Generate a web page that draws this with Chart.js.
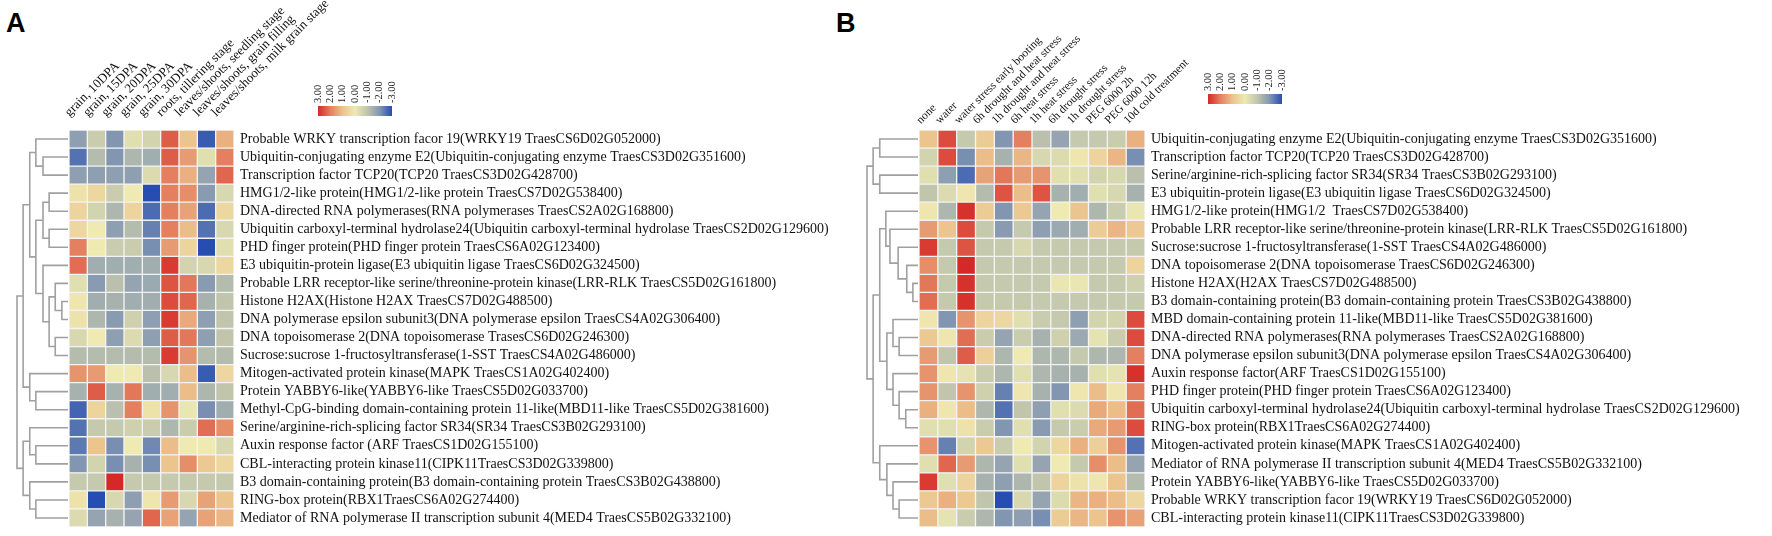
<!DOCTYPE html>
<html lang="en">
<head>
<meta charset="UTF-8">
<title>Expression heatmaps</title>
<style>
  body { margin: 0; background: #fff; width: 1772px; height: 536px; position: relative; overflow: hidden; }
  .panel { position: absolute; font-family: "Liberation Sans", Arial, sans-serif; font-weight: bold; font-size: 27px; color: #000; }
  canvas { position: absolute; }
</style>
<script src="https://cdn.jsdelivr.net/npm/chart.js"></script>
</head>
<body>
<div class="panel" style="left:6px;top:8px">A</div>
<div class="panel" style="left:836px;top:8px">B</div>
<canvas id="heatA"></canvas>
<canvas id="heatB"></canvas>
<canvas id="barA"></canvas>
<canvas id="barB"></canvas>
<script>
// ---- panel A: tissues ----
const colsA = ['grain, 10DPA', 'grain, 15DPA', 'grain, 20DPA', 'grain, 25DPA', 'grain, 30DPA',
  'roots, tillering stage', 'leaves/shoots, seedling stage', 'leaves/shoots, grain filling', 'leaves/shoots, milk grain stage'];
const rowsA = [
  'Probable WRKY transcription facor 19(WRKY19 TraesCS6D02G052000)',
  'Ubiquitin-conjugating enzyme E2(Ubiquitin-conjugating enzyme TraesCS3D02G351600)',
  'Transcription factor TCP20(TCP20 TraesCS3D02G428700)',
  'HMG1/2-like protein(HMG1/2-like protein TraesCS7D02G538400)',
  'DNA-directed RNA polymerases(RNA polymerases TraesCS2A02G168800)',
  'Ubiquitin carboxyl-terminal hydrolase24(Ubiquitin carboxyl-terminal hydrolase TraesCS2D02G129600)',
  'PHD finger protein(PHD finger protein TraesCS6A02G123400)',
  'E3 ubiquitin-protein ligase(E3 ubiquitin ligase TraesCS6D02G324500)',
  'Probable LRR receptor-like serine/threonine-protein kinase(LRR-RLK TraesCS5D02G161800)',
  'Histone H2AX(Histone H2AX TraesCS7D02G488500)',
  'DNA polymerase epsilon subunit3(DNA polymerase epsilon TraesCS4A02G306400)',
  'DNA topoisomerase 2(DNA topoisomerase TrasesCS6D02G246300)',
  'Sucrose:sucrose 1-fructosyltransferase(1-SST TraesCS4A02G486000)',
  'Mitogen-activated protein kinase(MAPK TraesCS1A02G402400)',
  'Protein YABBY6-like(YABBY6-like TraesCS5D02G033700)',
  'Methyl-CpG-binding domain-containing protein 11-like(MBD11-like TraesCS5D02G381600)',
  'Serine/arginine-rich-splicing factor SR34(SR34 TraesCS3B02G293100)',
  'Auxin response factor (ARF TraesCS1D02G155100)',
  'CBL-interacting protein kinase11(CIPK11TraesCS3D02G339800)',
  'B3 domain-containing protein(B3 domain-containing protein TraesCS3B02G438800)',
  'RING-box protein(RBX1TraesCS6A02G274400)',
  'Mediator of RNA polymerase II transcription subunit 4(MED4 TraesCS5B02G332100)'
];
const valuesA = [
  [-1.8, -0.8, -2.0, -0.3, -0.6,  2.4,  1.0, -2.8,  1.3],
  [-2.5, -1.2, -2.0, -1.3, -1.5,  2.4,  1.6, -0.3,  2.0],
  [-1.8, -1.8, -1.8, -1.8, -0.4,  2.0,  1.3, -1.7,  2.3],
  [ 0.2,  0.5, -0.8,  0.0, -3.0,  2.0,  1.8, -1.9, -0.5],
  [ 0.6, -0.6, -1.3,  0.6, -2.6,  2.0,  1.5, -2.6,  0.5],
  [ 0.5,  0.0, -1.8, -1.2, -2.3,  2.0,  1.1, -2.5, -0.5],
  [ 2.0,  0.0, -0.8, -0.8, -2.1,  1.6,  0.6, -3.0, -0.3],
  [ 2.2, -1.5, -1.5, -1.5, -1.5,  2.8, -0.6, -0.5,  0.5],
  [-0.3, -1.9, -1.1, -1.7, -1.6,  2.5,  2.1, -1.9, -1.2],
  [ 0.1, -1.5, -1.4, -1.5, -1.5,  2.6,  2.3, -1.4, -1.0],
  [ 0.2, -1.3, -1.9, -0.7, -1.8,  2.8,  1.4, -1.8, -1.0],
  [-0.5,  0.0, -1.8, -0.4, -1.8,  2.4,  2.1, -1.8, -1.0],
  [-1.2, -1.2, -1.2, -1.2, -1.2,  2.8,  1.7, -1.2, -1.2],
  [ 1.7,  1.6,  0.0,  0.0, -1.1, -0.5,  1.1, -2.8,  0.5],
  [-1.4,  2.4, -1.4,  2.1, -1.5, -1.5,  1.1, -1.3, -1.0],
  [-2.7,  0.6, -1.1,  2.0,  0.2,  1.7, -0.1, -2.1, -1.5],
  [-2.5, -0.9, -0.9, -0.7, -0.8, -1.3, -0.8,  2.2,  1.8],
  [-2.4,  1.0, -2.1,  0.0, -2.2,  1.1,  0.0,  0.0, -0.5],
  [-2.0, -0.6, -2.1, -1.4, -2.1,  1.0,  1.8,  0.9,  0.5],
  [-0.9, -0.9,  3.0, -0.9, -0.9, -0.9, -0.9, -0.9, -0.9],
  [ 0.2, -3.0, -0.5, -1.8,  0.1,  1.6, -0.5,  1.5,  1.0],
  [-0.4, -1.7, -1.4, -1.7,  2.3,  1.5, -1.7,  1.5,  1.2]
];
// row dendrogram: [left, right, height], leaves are row indexes
const treeA = [
  [[[0, [1, 2, 0.49], 0.63],
    [[[3, 4, 0.37], [5, 6, 0.37], 0.49],
     [7, [[8, [9, 10, 0.12], 0.25], [11, 12, 0.25], 0.37], 0.49], 0.63], 0.75],
   [13, [14, 15, 0.63], 0.75], 0.88],
  [[16, [17, 18, 0.63], 0.75], [19, [20, 21, 0.63], 0.75], 0.88],
  1.0
];

// ---- panel B: stresses ----
const colsB = ['none', 'water', 'water stress early booting', '6h drought and heat stress', '1h drought and heat stress',
  '6h heat stress', '1h heat stress', '6h drought stress', '1h drought stress', 'PEG 6000 2h', 'PEG 6000 12h', '10d cold treatment'];
const rowsB = [
  'Ubiquitin-conjugating enzyme E2(Ubiquitin-conjugating enzyme TraesCS3D02G351600)',
  'Transcription factor TCP20(TCP20 TraesCS3D02G428700)',
  'Serine/arginine-rich-splicing factor SR34(SR34 TraesCS3B02G293100)',
  'E3 ubiquitin-protein ligase(E3 ubiquitin ligase TraesCS6D02G324500)',
  'HMG1/2-like protein(HMG1/2  TraesCS7D02G538400)',
  'Probable LRR receptor-like serine/threonine-protein kinase(LRR-RLK TraesCS5D02G161800)',
  'Sucrose:sucrose 1-fructosyltransferase(1-SST TraesCS4A02G486000)',
  'DNA topoisomerase 2(DNA topoisomerase TraesCS6D02G246300)',
  'Histone H2AX(H2AX TraesCS7D02G488500)',
  'B3 domain-containing protein(B3 domain-containing protein TraesCS3B02G438800)',
  'MBD domain-containing protein 11-like(MBD11-like TraesCS5D02G381600)',
  'DNA-directed RNA polymerases(RNA polymerases TraesCS2A02G168800)',
  'DNA polymerase epsilon subunit3(DNA polymerase epsilon TraesCS4A02G306400)',
  'Auxin response factor(ARF TraesCS1D02G155100)',
  'PHD finger protein(PHD finger protein TraesCS6A02G123400)',
  'Ubiquitin carboxyl-terminal hydrolase24(Ubiquitin carboxyl-terminal hydrolase TraesCS2D02G129600)',
  'RING-box protein(RBX1TraesCS6A02G274400)',
  'Mitogen-activated protein kinase(MAPK TraesCS1A02G402400)',
  'Mediator of RNA polymerase II transcription subunit 4(MED4 TraesCS5B02G332100)',
  'Protein YABBY6-like(YABBY6-like TraesCS5D02G033700)',
  'Probable WRKY transcription facor 19(WRKY19 TraesCS6D02G052000)',
  'CBL-interacting protein kinase11(CIPK11TraesCS3D02G339800)'
];
const valuesB = [
  [ 1.0,  2.6, -0.9,  0.8, -2.0,  2.0, -1.1, -1.7, -0.9, -0.9, -0.8,  1.3],
  [-0.6,  2.6, -2.1,  1.1, -1.4,  1.2, -0.5, -0.4,  0.1,  0.6,  1.2, -2.1],
  [-0.3, -1.8, -2.6,  1.5,  2.1,  1.6,  1.7, -0.3, -0.3, -0.6, -0.5, -1.1],
  [-1.0, -0.4,  0.1, -1.2,  2.5,  1.1,  2.5, -1.4, -1.5, -0.3, -0.5, -1.4],
  [ 0.1, -1.3,  2.9,  0.8, -2.0,  0.9, -1.7,  0.0,  1.0, -1.3, -0.8, -0.1],
  [ 1.6,  1.0,  2.6, -0.9, -1.9, -0.9, -1.8, -1.6, -1.5,  0.8,  1.2,  0.9],
  [ 2.8, -0.9,  2.5, -0.9, -0.9, -0.5, -0.9, -0.9, -0.9, -0.9, -0.9, -0.9],
  [ 1.8, -0.9,  3.0, -0.9, -0.9, -0.9, -0.9, -0.9, -0.9, -0.9, -0.9,  0.6],
  [ 2.1, -0.9,  2.9, -0.9, -0.9, -0.9, -0.9, -0.1, -0.1, -0.9, -0.9, -0.7],
  [ 2.2, -0.9,  2.9, -0.9, -0.9, -0.9, -0.9, -0.9, -0.9, -0.9, -0.9, -0.9],
  [ 0.1, -2.0,  1.7,  0.6,  0.5, -0.3, -0.8, -0.9, -1.8, -0.6, -0.6,  2.6],
  [ 0.9,  0.1,  2.2, -0.8, -1.7, -0.8, -1.4, -0.7, -1.6, -0.2, -0.8,  2.6],
  [ 1.6, -1.0,  2.4,  0.7, -1.3,  0.0, -1.3, -1.3, -0.9, -1.3, -1.3,  2.0],
  [ 1.7,  0.1, -0.2, -0.8, -1.3, -0.3, -1.3, -1.4, -1.4, -0.3, -0.2,  2.9],
  [ 1.7, -1.0,  1.7, -0.7, -2.3,  0.1, -1.4, -2.0,  0.1,  1.1,  0.1,  2.0],
  [ 1.3,  0.1,  1.1, -1.3, -2.5, -1.0, -1.8, -0.3, -0.4,  1.4,  1.1,  2.2],
  [-0.3, -0.3,  0.2, -0.8, -2.0, -0.3, -1.9, -0.9, -0.8,  1.4,  1.6,  2.6],
  [ 1.7, -2.3, -0.6,  0.9, -0.8,  0.0, -0.6,  0.5,  1.3,  0.7,  1.7, -2.5],
  [-0.3,  2.3,  1.6, -1.3, -1.7, -0.3, -1.7,  0.0, -0.9,  1.8,  1.1, -1.7],
  [ 2.8, -0.3,  0.6, -1.4, -1.8, -1.3, -1.0,  0.6,  0.2,  0.1,  1.0, -1.2],
  [ 0.9,  1.3,  0.9, -1.0, -3.0, -0.5, -1.7, -0.4,  1.2,  1.3,  1.1,  0.5],
  [ 1.1, -0.2, -0.8, -1.3, -2.0, -1.8, -2.1,  0.8,  1.2,  1.0,  1.7,  1.5]
];
const treeB = [
  [[0, 1, 0.75], [2, 3, 0.75], 0.88],
  [[[4, [5, [6, [7, [8, 9, 0.10], 0.22], 0.39], 0.55], 0.63],
    [[10, [11, 12, 0.37], 0.49], [13, [14, [15, 16, 0.24], 0.37], 0.49], 0.61], 0.75],
   [17, [18, [19, [20, 21, 0.37], 0.49], 0.61], 0.75], 0.88],
  1.0
];

// colour key
const keyValues = [3, 2, 1, 0, -1, -2, -3];
const keyColors = [[214, 40, 38], [228, 128, 95], [236, 196, 142], [238, 234, 178], [192, 197, 172], [130, 150, 178], [38, 78, 178]];

function heatColor(v) {
  v = Math.max(-3, Math.min(3, v));
  const i = Math.min(keyValues.length - 2, Math.floor(3 - v));
  const t = (keyValues[i] - v) / (keyValues[i] - keyValues[i + 1]);
  const a = keyColors[i], b = keyColors[i + 1];
  const c = a.map((x, k) => Math.round(x + (b[k] - x) * t));
  return `rgb(${c[0]},${c[1]},${c[2]})`;
}

const dendroPlugin = {
  id: 'dendro',
  afterDraw(chart, args, opts) {
    if (!opts.tree) return;
    const ctx = chart.ctx, ys = chart.scales.y;
    const x0 = chart.chartArea.left - 1;
    ctx.save();
    ctx.strokeStyle = '#a0a0a0';
    ctx.lineWidth = 1.6;
    function walk(node) {
      if (typeof node === 'number') return { x: x0, y: ys.getPixelForValue(node) };
      const a = walk(node[0]), b = walk(node[1]);
      const x = x0 - node[2] * opts.width;
      ctx.beginPath();
      ctx.moveTo(a.x, a.y); ctx.lineTo(x, a.y); ctx.lineTo(x, b.y); ctx.lineTo(b.x, b.y);
      ctx.stroke();
      return { x: x, y: (a.y + b.y) / 2 };
    }
    walk(opts.tree);
    ctx.restore();
  }
};

// vertical value labels above the colour key, placed with the key's x scale
const keyLabelPlugin = {
  id: 'keyLabels',
  afterDraw(chart, args, opts) {
    if (!opts.show) return;
    const ctx = chart.ctx, xs = chart.scales.x, top = chart.chartArea.top;
    ctx.save();
    ctx.fillStyle = '#222';
    ctx.font = '10.5px "Liberation Serif"';
    ctx.textAlign = 'left';
    ctx.textBaseline = 'middle';
    keyValues.forEach(v => {
      ctx.save();
      ctx.translate(xs.getPixelForValue(v), top - 3);
      ctx.rotate(-Math.PI / 2);
      ctx.fillText(v.toFixed(2), 0, 0);
      ctx.restore();
    });
    ctx.restore();
  }
};
Chart.register(dendroPlugin, keyLabelPlugin);

function heatmap(id, cols, rows, values, tree, canvasLeft, canvasWidth, gridLeft, gridRight, colFont, colPad) {
  const cv = document.getElementById(id);
  cv.width = canvasWidth; cv.height = 536;
  cv.style.left = canvasLeft + 'px'; cv.style.top = '0px';
  const datasets = cols.map((c, ci) => ({
    label: c,
    data: rows.map(() => [ci, ci + 1]),
    backgroundColor: rows.map((r, ri) => heatColor(values[ri][ci])),
    borderColor: '#f3f3f3',
    borderWidth: 1,
    borderSkipped: false,
    barPercentage: 1,
    categoryPercentage: 1,
    grouped: false
  }));
  return new Chart(cv, {
    type: 'bar',
    data: { labels: rows, datasets: datasets },
    options: {
      indexAxis: 'y',
      responsive: false,
      animation: false,
      layout: { padding: { left: gridLeft - canvasLeft, right: 0, top: 0, bottom: 9 } },
      plugins: { legend: { display: false }, tooltip: { enabled: false }, dendro: { tree: tree, width: 51 } },
      scales: {
        x: {
          type: 'linear', position: 'top', min: 0, max: cols.length,
          grid: { display: false, drawTicks: false }, border: { display: false },
          afterBuildTicks: s => { s.ticks = cols.map((_, i) => ({ value: i + 0.5 })); },
          afterFit: s => { s.height = 130; s.paddingLeft = 0; s.paddingRight = 0; },
          ticks: {
            autoSkip: false, minRotation: 45, maxRotation: 45, padding: colPad, color: '#111',
            font: { family: 'Liberation Serif', size: colFont },
            callback: (v, i) => cols[i]
          }
        },
        y: {
          type: 'category', position: 'right', offset: true,
          grid: { display: false, drawTicks: false }, border: { display: false },
          afterFit: s => { s.width = canvasLeft + canvasWidth - gridRight; s.paddingTop = 0; s.paddingBottom = 0; },
          ticks: { autoSkip: false, padding: 6, color: '#111', font: { family: 'Liberation Serif', size: 14 } }
        }
      }
    }
  });
}

function colorKey(id, barLeft, barTop, barWidth, barHeight) {
  const labelH = 32, pad = 10;
  const cv = document.getElementById(id);
  cv.width = barWidth + 2 * pad; cv.height = labelH + barHeight;
  cv.style.left = (barLeft - pad) + 'px'; cv.style.top = (barTop - labelH) + 'px';
  return new Chart(cv, {
    type: 'bar',
    data: {
      labels: [''],
      datasets: [{
        data: [[-3, 3]],
        borderWidth: 0,
        barPercentage: 1,
        categoryPercentage: 1,
        backgroundColor: ctx => {
          const ch = ctx.chart, area = ch.chartArea;
          if (!area) return heatColor(0);
          const xs = ch.scales.x;
          const g = ch.ctx.createLinearGradient(area.left, 0, area.right, 0);
          keyValues.forEach(v => {
            const f = (xs.getPixelForValue(v) - area.left) / (area.right - area.left);
            g.addColorStop(Math.max(0, Math.min(1, f)), heatColor(v));
          });
          return g;
        }
      }]
    },
    options: {
      indexAxis: 'y',
      responsive: false,
      animation: false,
      layout: { padding: { left: pad, right: pad, top: labelH, bottom: 0 } },
      plugins: { legend: { display: false }, tooltip: { enabled: false }, keyLabels: { show: true } },
      scales: {
        x: { type: 'linear', min: -3, max: 3, reverse: true, display: false },
        y: { display: false }
      }
    }
  });
}

heatmap('heatA', colsA, rowsA, valuesA, treeA, 0, 880, 69, 234, 13, 10);
heatmap('heatB', colsB, rowsB, valuesB, treeB, 830, 942, 919, 1145, 11.5, 3);
colorKey('barA', 318, 106, 74, 10);
colorKey('barB', 1208, 94, 74, 10);
</script>
</body>
</html>
